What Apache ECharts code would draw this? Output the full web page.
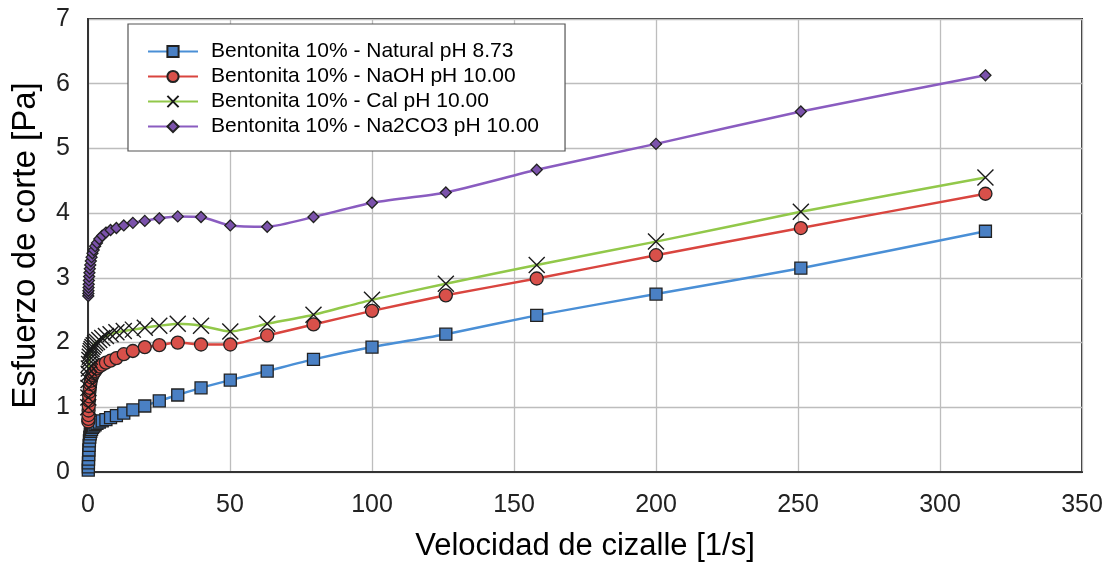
<!DOCTYPE html>
<html>
<head>
<meta charset="utf-8">
<script src="https://cdn.jsdelivr.net/npm/echarts@6/dist/echarts.min.js"></script>
<style>
  html, body { margin: 0; padding: 0; background: #fff; }
  #chart { width: 1107px; height: 565px; }
</style>
</head>
<body>
<div id="chart"></div>
<script>
// Shear rate sweep, 10 points per decade [1/s]
const shearRates = [0.1, 0.126, 0.158, 0.2, 0.251, 0.316, 0.398, 0.501, 0.631, 0.794,
  1, 1.26, 1.58, 2, 2.51, 3.16, 3.98, 5.01, 6.31, 7.94,
  10, 12.6, 15.8, 20, 25.1, 31.6, 39.8, 50.1, 63.1, 79.4,
  100, 126, 158, 200, 251, 316];

// Shear stress [Pa] for each suspension
const natural = [0.03, 0.08, 0.14, 0.2, 0.27, 0.34, 0.41, 0.48, 0.54, 0.59,
  0.63, 0.66, 0.69, 0.71, 0.73, 0.75, 0.77, 0.79, 0.81, 0.84,
  0.87, 0.91, 0.96, 1.02, 1.1, 1.19, 1.3, 1.42, 1.56, 1.74,
  1.93, 2.13, 2.42, 2.75, 3.15, 3.72];
const naoh = [0.78, 0.82, 0.88, 0.95, 1.02, 1.1, 1.17, 1.24, 1.3, 1.36,
  1.41, 1.46, 1.5, 1.53, 1.56, 1.6, 1.63, 1.66, 1.69, 1.72,
  1.76, 1.82, 1.87, 1.93, 1.96, 2.0, 1.97, 1.97, 2.11, 2.28,
  2.49, 2.73, 2.99, 3.35, 3.77, 4.3];
const cal = [1.0, 1.15, 1.3, 1.42, 1.52, 1.6, 1.67, 1.73, 1.78, 1.83,
  1.87, 1.9, 1.93, 1.96, 1.99, 2.01, 2.04, 2.07, 2.1, 2.13,
  2.16, 2.18, 2.2, 2.23, 2.26, 2.29, 2.26, 2.17, 2.29, 2.43,
  2.66, 2.91, 3.2, 3.56, 4.02, 4.55];
const na2co3 = [2.72, 2.76, 2.8, 2.85, 2.9, 2.96, 3.02, 3.08, 3.14, 3.2,
  3.26, 3.32, 3.38, 3.43, 3.49, 3.54, 3.6, 3.65, 3.7, 3.74,
  3.77, 3.81, 3.85, 3.88, 3.92, 3.95, 3.94, 3.81, 3.79, 3.94,
  4.16, 4.32, 4.67, 5.07, 5.57, 6.13];

const seriesNames = [
  'Bentonita 10% - Natural pH 8.73',
  'Bentonita 10% - NaOH pH 10.00',
  'Bentonita 10% - Cal pH 10.00',
  'Bentonita 10% - Na2CO3 pH 10.00'
];

const xTicks = { min: 0, max: 350, step: 50 };
const yTicks = { min: 0, max: 7, step: 1 };

function pairs(ys) { return shearRates.map((x, i) => [x, ys[i]]); }

const tickFont = 'Liberation Sans Narrow, Arial Narrow, sans-serif';
const titleFont = 'Liberation Sans, Arial, sans-serif';

const chart = echarts.init(document.getElementById('chart'), null, { renderer: 'canvas' });

function lineSeries(name, ys, lineColor, symbol, size, fill, extra) {
  return Object.assign({
    name: name,
    type: 'line',
    data: pairs(ys),
    smooth: 0.2,
    symbol: symbol,
    symbolSize: size,
    showAllSymbol: true,
    lineStyle: { color: lineColor, width: 2.5 },
    itemStyle: { color: fill, borderColor: '#222', borderWidth: 1.3 },
    emphasis: { disabled: true },
    animation: false
  }, extra || {});
}

chart.setOption({
  backgroundColor: '#fff',
  animation: false,
  grid: {
    left: 88, right: 25, top: 19, bottom: 93,
    outerBoundsMode: 'none',
    containLabel: false,
    show: true, borderColor: '#333', borderWidth: 2, backgroundColor: 'transparent'
  },
  legend: {
    orient: 'vertical',
    left: 128, top: 24,
    padding: [17, 26, 14, 19],
    itemGap: 4,
    itemWidth: 50, itemHeight: 14,
    backgroundColor: '#fff',
    borderColor: '#555', borderWidth: 1.2,
    textStyle: { fontFamily: titleFont, fontSize: 21, color: '#000', padding: [0, 0, 0, 8] },
    data: seriesNames
  },
  xAxis: {
    type: 'value',
    min: xTicks.min, max: xTicks.max, interval: xTicks.step,
    name: 'Velocidad de cizalle [1/s]',
    nameLocation: 'middle',
    nameGap: 59,
    nameTextStyle: { fontFamily: titleFont, fontSize: 31, color: '#000' },
    axisLine: { show: true, lineStyle: { color: '#333', width: 2 } },
    axisTick: { show: false },
    axisLabel: { fontFamily: tickFont, fontSize: 25, color: '#222', margin: 21 },
    splitLine: { show: true, lineStyle: { color: '#bdbdbd', width: 1.3 } }
  },
  yAxis: {
    type: 'value',
    min: yTicks.min, max: yTicks.max, interval: yTicks.step,
    name: 'Esfuerzo de corte [Pa]',
    nameLocation: 'middle',
    nameGap: 46,
    nameRotate: 90,
    nameTextStyle: { fontFamily: titleFont, fontSize: 33, color: '#000' },
    axisLine: { show: true, lineStyle: { color: '#333', width: 2 } },
    axisTick: { show: false },
    axisLabel: { fontFamily: tickFont, fontSize: 25, color: '#222', margin: 18 },
    splitLine: { show: true, lineStyle: { color: '#bdbdbd', width: 1.3 } }
  },
  series: [
    lineSeries(seriesNames[0], natural, '#4a8fd6', 'rect', 12, '#4a80c4'),
    lineSeries(seriesNames[1], naoh, '#d9453f', 'circle', 13, '#d8504a'),
    lineSeries(seriesNames[2], cal, '#92c84a', 'path://M0,0L10,10M0,10L10,0', 16, '#92c84a',
      { itemStyle: { color: 'transparent', borderColor: '#1a1a1a', borderWidth: 1.4 } }),
    lineSeries(seriesNames[3], na2co3, '#8a5cc0', 'diamond', 11, '#7b52ab')
  ]
});
</script>
</body>
</html>
